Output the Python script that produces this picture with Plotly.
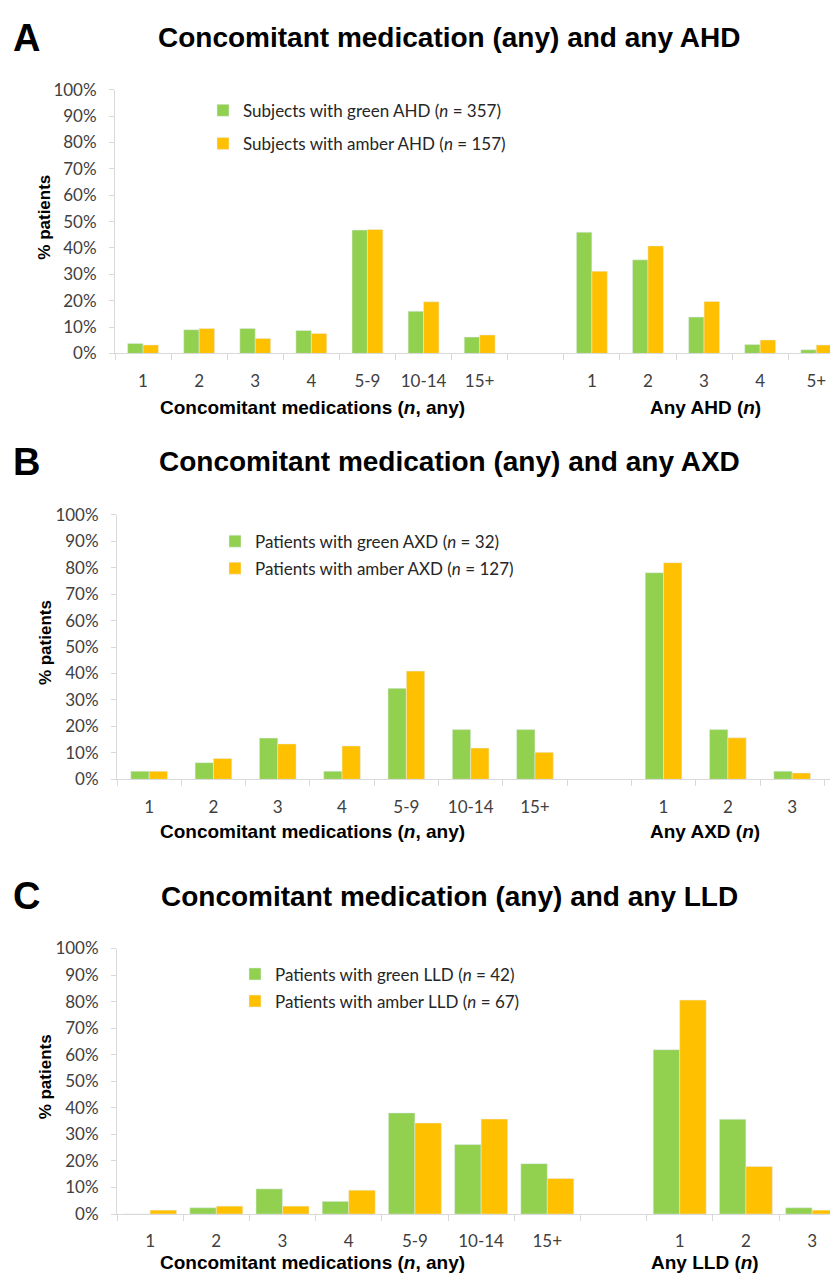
import plotly.graph_objects as go

W, H = 838, 1282
OFF = 8  # default page margin of the browser body

# ---------------- data ----------------
med_cats = ["1", "2", "3", "4", "5-9", "10-14", "15+"]

ahd_cats = ["1", "2", "3", "4", "5+"]
green_A_med = [3.8, 9.0, 9.5, 8.7, 46.8, 16.0, 6.2]
amber_A_med = [3.2, 9.5, 5.7, 7.6, 47.0, 19.6, 7.0]
green_A_ahd = [46.0, 35.5, 13.8, 3.4, 1.4]
amber_A_ahd = [31.2, 40.8, 19.7, 5.1, 3.2]

axd_cats = ["1", "2", "3"]
green_B_med = [3.1, 6.3, 15.6, 3.1, 34.4, 18.8, 18.8]
amber_B_med = [3.1, 7.9, 13.4, 12.6, 40.9, 11.8, 10.2]
green_B_axd = [78.1, 18.8, 3.1]
amber_B_axd = [81.9, 15.7, 2.4]

lld_cats = ["1", "2", "3"]
green_C_med = [0.0, 2.4, 9.5, 4.8, 38.1, 26.2, 19.0]
amber_C_med = [1.5, 3.0, 3.0, 9.0, 34.3, 35.8, 13.4]
green_C_lld = [61.9, 35.7, 2.4]
amber_C_lld = [80.6, 17.9, 1.5]

panels = [
    dict(letter="A", title="Concomitant medication (any) and any AHD",
         right_cats=ahd_cats, g=(green_A_med, green_A_ahd), a=(amber_A_med, amber_A_ahd),
         gname="Subjects with green AHD (<i>n</i> = 357)",
         aname="Subjects with amber AHD (<i>n</i> = 157)",
         right_title="Any AHD (<i>n</i>)"),
    dict(letter="B", title="Concomitant medication (any) and any AXD",
         right_cats=axd_cats, g=(green_B_med, green_B_axd), a=(amber_B_med, amber_B_axd),
         gname="Patients with green AXD (<i>n</i> = 32)",
         aname="Patients with amber AXD (<i>n</i> = 127)",
         right_title="Any AXD (<i>n</i>)"),
    dict(letter="C", title="Concomitant medication (any) and any LLD",
         right_cats=lld_cats, g=(green_C_med, green_C_lld), a=(amber_C_med, amber_C_lld),
         gname="Patients with green LLD (<i>n</i> = 42)",
         aname="Patients with amber LLD (<i>n</i> = 67)",
         right_title="Any LLD (<i>n</i>)"),
]

# ---------------- layout geometry (page pixels) ----------------
geom = [
    dict(x0=115, cat=56.1, top=80, bot=348, bw=0.275, title_y=27, axt_y=403,
         leg_text=239, leg_y=100, gap=33),
    dict(x0=117, cat=64.3, top=512, bot=781, bw=0.285, title_y=458, axt_y=834,
         leg_text=251, leg_y=538, gap=27),
    dict(x0=117, cat=66.2, top=953, bot=1223, bw=0.40, title_y=900, axt_y=1272,
         leg_text=271, leg_y=978, gap=27),
]

GREEN = "#92D050"
AMBER = "#FFC000"
AXIS = "#D9D9D9"
TICKFONT = dict(family="Lato, Liberation Sans, sans-serif", size=17, color="#404040")
BOLD = "Liberation Sans, Arial, sans-serif"


def px_x(p):
    return (p - OFF) / W


def px_y(p):
    return 1 - (p - OFF) / H


fig = go.Figure()
annotations = []

for i, (p, g) in enumerate(zip(panels, geom)):
    labels = med_cats + [""] + p["right_cats"]
    pos = list(range(len(labels)))
    gvals = p["g"][0] + [None] + p["g"][1]
    avals = p["a"][0] + [None] + p["a"][1]
    n = i + 1
    xa = "x" if n == 1 else f"x{n}"
    ya = "y" if n == 1 else f"y{n}"
    leg = "legend" if n == 1 else f"legend{n}"
    fig.add_trace(go.Bar(x=pos, y=gvals, name=p["gname"], marker_color=GREEN,
                         width=g["bw"], offset=-g["bw"], xaxis=xa, yaxis=ya,
                         legend=leg, legendgroup=f"g{n}"))
    fig.add_trace(go.Bar(x=pos, y=avals, name=p["aname"], marker_color=AMBER,
                         width=g["bw"], offset=0, xaxis=xa, yaxis=ya,
                         legend=leg, legendgroup=f"a{n}"))

    rng_end = -0.5 + (W + OFF - g["x0"]) / g["cat"]
    xkey = "xaxis" if n == 1 else f"xaxis{n}"
    ykey = "yaxis" if n == 1 else f"yaxis{n}"
    fig.update_layout({
        xkey: dict(domain=[px_x(g["x0"]), 1], range=[-0.5, rng_end], anchor=ya,
                   tickmode="array", tickvals=pos, ticktext=labels, ticks="",
                   showline=True, linecolor=AXIS, linewidth=1, showgrid=False,
                   zeroline=False, tickfont=TICKFONT, ticklabelstandoff=12,
                   minor=dict(tickmode="array", tickvals=[k - 0.5 for k in range(len(labels) + 1)],
                              ticks="outside", ticklen=6, tickcolor=AXIS, tickwidth=1,
                              showgrid=False),
                   fixedrange=True),
        ykey: dict(domain=[px_y(g["bot"]), px_y(g["top"])], range=[0, 100], anchor=xa,
                   tickmode="linear", tick0=0, dtick=10, ticksuffix="%",
                   ticks="outside", ticklen=5, tickcolor=AXIS, showline=True,
                   linecolor=AXIS, linewidth=1, showgrid=False, zeroline=False,
                   tickfont=TICKFONT, ticklabelstandoff=9, fixedrange=True),
        leg: dict(x=px_x(g["leg_text"] - 36), y=px_y(g["leg_y"] - 17), xanchor="left",
                  yanchor="top", font=dict(family="Lato, Liberation Sans, sans-serif",
                                           size=17, color="#262626"),
                  bgcolor="rgba(0,0,0,0)", tracegroupgap=g["gap"] - 25,
                  itemwidth=30, traceorder="grouped"),
    })

    # panel letter and title
    annotations.append(dict(text="<b>" + p["letter"] + "</b>", x=px_x(26), y=px_y(g["title_y"]),
                            xref="paper", yref="paper", showarrow=False,
                            font=dict(family=BOLD, size=38, color="black"),
                            xanchor="center", yanchor="middle"))
    annotations.append(dict(text="<b>" + p["title"] + "</b>", x=px_x(449), y=px_y(g["title_y"]),
                            xref="paper", yref="paper", showarrow=False,
                            font=dict(family=BOLD, size=28, color="black"),
                            xanchor="center", yanchor="middle"))
    # y axis title
    annotations.append(dict(text="<b>% patients</b>", x=px_x(45),
                            y=px_y((g["top"] + g["bot"]) / 2 - 4), xref="paper", yref="paper",
                            showarrow=False, textangle=-90,
                            font=dict(family=BOLD, size=17, color="black"),
                            xanchor="center", yanchor="middle"))
    # x axis group titles
    annotations.append(dict(text="<b>Concomitant medications (<i>n</i>, any)</b>",
                            x=px_x(312), y=px_y(g["axt_y"]), xref="paper", yref="paper",
                            showarrow=False, font=dict(family=BOLD, size=19, color="black"),
                            xanchor="center", yanchor="middle"))
    annotations.append(dict(text="<b>" + p["right_title"] + "</b>",
                            x=px_x(705), y=px_y(g["axt_y"]), xref="paper", yref="paper",
                            showarrow=False, font=dict(family=BOLD, size=19, color="black"),
                            xanchor="center", yanchor="middle"))

fig.update_layout(width=W, height=H, autosize=False,
                  margin=dict(l=0, r=0, t=0, b=0),
                  paper_bgcolor="white", plot_bgcolor="white",
                  barmode="overlay", annotations=annotations, showlegend=True)

fig.write_html("out.html")
